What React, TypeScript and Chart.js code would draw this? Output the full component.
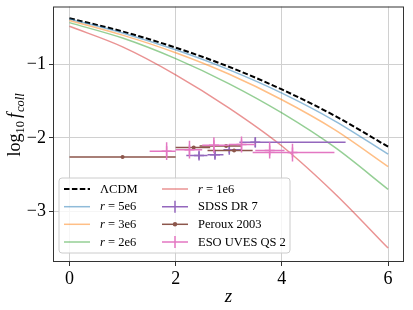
import React, { useEffect, useRef } from 'react';
import { Chart, registerables } from 'chart.js';
Chart.register(...registerables);

const SERIF = '"Liberation Serif", "Times New Roman", serif';

// ---- model curves (log10 f_coll vs z) ----
const zGrid = [0, 1, 2, 3, 4, 5, 6];
const lcdm = [-0.37, -0.55, -0.77, -1.03, -1.34, -1.70, -2.12];
const r5e6 = [-0.38, -0.57, -0.80, -1.07, -1.39, -1.77, -2.22];
const r3e6 = [-0.40, -0.60, -0.84, -1.13, -1.48, -1.89, -2.39];
const r2e6 = [-0.43, -0.64, -0.92, -1.26, -1.66, -2.13, -2.70];
const r1e6 = [-0.48, -0.76, -1.14, -1.59, -2.11, -2.76, -3.50];

// ---- observations ----
const sdssZ = [2.44, 2.74, 3.01, 3.5];
const sdssLogF = [-2.24, -2.23, -2.16, -2.06];
const sdssZLo = [2.2, 2.6, 2.9, 3.2];
const sdssZHi = [2.6, 2.9, 3.25, 5.2];
const sdssErr = [0.05, 0.05, 0.05, 0.07];

const perZ = [1.0, 2.34, 2.95, 3.1];
const perLogF = [-2.26, -2.13, -2.11, -2.17];
const perZLo = [0.0, 2.0, 2.45, 2.6];
const perZHi = [2.0, 2.65, 3.25, 3.45];
const perErr = [0.01, 0.015, 0.015, 0.015];

const esoZ = [1.83, 2.26, 2.72, 3.24, 3.77, 4.2];
const esoLogF = [-2.18, -2.16, -2.1, -2.09, -2.17, -2.2];
const esoZLo = [1.51, 2.0, 2.5, 3.0, 3.5, 3.45];
const esoZHi = [2.0, 2.5, 3.0, 3.5, 4.05, 4.99];
const esoErr = [0.12, 0.12, 0.11, 0.11, 0.11, 0.12];

const xTicks = [0, 2, 4, 6];
const yTicks = [-3, -2, -1];

const C_SDSS = '#9467bd';
const C_PER = '#8c564b';
const C_ESO = '#e377c2';

const fmt = (v: number) => (v < 0 ? '\u2212' + Math.abs(v) : String(v));
const pts = (xs: number[], ys: number[]) => xs.map((x, i) => ({ x, y: ys[i] }));

const curve = (label: string, ys: number[], color: string, order: number, dash?: number[], width = 1.5) => ({
  label,
  data: pts(zGrid, ys),
  showLine: true,
  borderColor: color,
  backgroundColor: color,
  borderWidth: width,
  borderDash: dash || [],
  pointRadius: 0,
  cubicInterpolationMode: 'monotone' as const,
  order,
});

const errorPlugin = {
  id: 'errbars',
  beforeDatasetDraw(chart: any, args: any) {
    const ds = chart.data.datasets[args.index];
    const eb = ds.errorBars;
    if (!eb) return;
    const { ctx, chartArea: a } = chart;
    const xs = chart.scales.x;
    const ys = chart.scales.y;
    ctx.save();
    ctx.beginPath();
    ctx.rect(a.left, a.top, a.right - a.left, a.bottom - a.top);
    ctx.clip();
    ctx.strokeStyle = ds.borderColor;
    ctx.lineWidth = eb.width;
    ds.data.forEach((p: any, i: number) => {
      const px = xs.getPixelForValue(p.x);
      const py = ys.getPixelForValue(p.y);
      ctx.beginPath();
      ctx.moveTo(xs.getPixelForValue(eb.lo[i]), py);
      ctx.lineTo(xs.getPixelForValue(eb.hi[i]), py);
      ctx.moveTo(px, ys.getPixelForValue(p.y - eb.yerr[i]));
      ctx.lineTo(px, ys.getPixelForValue(p.y + eb.yerr[i]));
      ctx.stroke();
    });
    ctx.restore();
  },
};

const decorPlugin = {
  id: 'decor',
  afterDraw(chart: any) {
    const { ctx, chartArea: a } = chart;
    ctx.save();
    // spines
    ctx.strokeStyle = '#333';
    ctx.lineWidth = 1;
    ctx.strokeRect(a.left + 0.5, a.top + 0.5, a.right - a.left - 1, a.bottom - a.top - 1);

    // x title
    ctx.fillStyle = '#000';
    ctx.font = `italic 19px ${SERIF}`;
    ctx.textAlign = 'center';
    ctx.textBaseline = 'alphabetic';
    ctx.fillText('z', (a.left + a.right) / 2, 302);

    // y title: log10 f_coll
    ctx.save();
    ctx.translate(20, 125);
    ctx.rotate(-Math.PI / 2);
    const parts = [
      { t: 'log', f: `18px ${SERIF}`, dy: 0, gap: 0 },
      { t: '10', f: `12.5px ${SERIF}`, dy: 4, gap: 3 },
      { t: 'f', f: `italic 18px ${SERIF}`, dy: 0, gap: 1 },
      { t: 'coll', f: `italic 12.5px ${SERIF}`, dy: 4, gap: 0 },
    ];
    let total = 0;
    parts.forEach((p) => {
      ctx.font = p.f;
      total += ctx.measureText(p.t).width + p.gap;
    });
    let x = -total / 2;
    ctx.textAlign = 'left';
    parts.forEach((p) => {
      ctx.font = p.f;
      ctx.fillText(p.t, x, p.dy);
      x += ctx.measureText(p.t).width + p.gap;
    });
    ctx.restore();

    // legend
    const bx = 59, by = 178, bw = 231, bh = 75;
    ctx.beginPath();
    const r = 3;
    ctx.moveTo(bx + r, by);
    ctx.arcTo(bx + bw, by, bx + bw, by + bh, r);
    ctx.arcTo(bx + bw, by + bh, bx, by + bh, r);
    ctx.arcTo(bx, by + bh, bx, by, r);
    ctx.arcTo(bx, by, bx + bw, by, r);
    ctx.closePath();
    ctx.fillStyle = 'rgba(255,255,255,0.8)';
    ctx.fill();
    ctx.strokeStyle = '#cccccc';
    ctx.lineWidth = 1;
    ctx.stroke();

    const rows = [189, 206.7, 224.3, 242];
    const drawLineHandle = (x0: number, y: number, color: string, dash: number[], w: number) => {
      ctx.save();
      ctx.strokeStyle = color;
      ctx.lineWidth = w;
      ctx.setLineDash(dash);
      ctx.beginPath();
      ctx.moveTo(x0, y);
      ctx.lineTo(x0 + 26, y);
      ctx.stroke();
      ctx.restore();
    };
    const drawErrHandle = (x0: number, y: number, color: string, kind: string) => {
      ctx.save();
      ctx.strokeStyle = color;
      ctx.fillStyle = color;
      ctx.lineWidth = 1.5;
      ctx.beginPath();
      ctx.moveTo(x0, y);
      ctx.lineTo(x0 + 26, y);
      if (kind === 'plus') {
        ctx.moveTo(x0 + 13, y - 6);
        ctx.lineTo(x0 + 13, y + 6);
      }
      ctx.stroke();
      if (kind === 'dot') {
        ctx.beginPath();
        ctx.arc(x0 + 13, y, 2.2, 0, Math.PI * 2);
        ctx.fill();
      }
      ctx.restore();
    };
    const label = (x0: number, y: number, pieces: { t: string; it?: boolean }[]) => {
      let xx = x0;
      ctx.fillStyle = '#000';
      ctx.textAlign = 'left';
      ctx.textBaseline = 'middle';
      pieces.forEach((p) => {
        ctx.font = `${p.it ? 'italic ' : ''}12.5px ${SERIF}`;
        ctx.fillText(p.t, xx, y + 0.5);
        xx += ctx.measureText(p.t).width;
      });
    };
    const c1 = 64, t1 = 100, c2 = 162, t2 = 198;
    drawLineHandle(c1, rows[0], '#000', [5.5, 2.4], 2);
    label(t1, rows[0], [{ t: '\u039BCDM' }]);
    drawLineHandle(c1, rows[1], 'rgba(31,119,180,0.5)', [], 1.5);
    label(t1, rows[1], [{ t: 'r', it: true }, { t: ' = 5e6' }]);
    drawLineHandle(c1, rows[2], 'rgba(255,127,14,0.5)', [], 1.5);
    label(t1, rows[2], [{ t: 'r', it: true }, { t: ' = 3e6' }]);
    drawLineHandle(c1, rows[3], 'rgba(44,160,44,0.5)', [], 1.5);
    label(t1, rows[3], [{ t: 'r', it: true }, { t: ' = 2e6' }]);
    drawLineHandle(c2, rows[0], 'rgba(214,39,40,0.5)', [], 1.5);
    label(t2, rows[0], [{ t: 'r', it: true }, { t: ' = 1e6' }]);
    drawErrHandle(c2, rows[1], C_SDSS, 'plus');
    label(t2, rows[1], [{ t: 'SDSS DR 7' }]);
    drawErrHandle(c2, rows[2], C_PER, 'dot');
    label(t2, rows[2], [{ t: 'Peroux 2003' }]);
    drawErrHandle(c2, rows[3], C_ESO, 'plus');
    label(t2, rows[3], [{ t: 'ESO UVES QS 2' }]);
    ctx.restore();
  },
};

export default function App() {
  const ref = useRef<HTMLCanvasElement>(null);
  useEffect(() => {
    const chart = new Chart(ref.current!, {
      type: 'scatter',
      data: {
        datasets: [
          curve('\u039BCDM', lcdm, '#000', 7, [5.5, 2.4], 2),
          curve('r = 5e6', r5e6, 'rgba(31,119,180,0.5)', 6),
          curve('r = 3e6', r3e6, 'rgba(255,127,14,0.5)', 5),
          curve('r = 2e6', r2e6, 'rgba(44,160,44,0.5)', 4),
          curve('r = 1e6', r1e6, 'rgba(214,39,40,0.5)', 3),
          {
            label: 'SDSS DR 7',
            data: pts(sdssZ, sdssLogF),
            borderColor: C_SDSS,
            backgroundColor: C_SDSS,
            pointStyle: 'cross',
            pointRadius: 5,
            borderWidth: 1.5,
            order: 2,
            errorBars: { lo: sdssZLo, hi: sdssZHi, yerr: sdssErr, width: 1.5 },
          } as any,
          {
            label: 'Peroux 2003',
            data: pts(perZ, perLogF),
            borderColor: C_PER,
            backgroundColor: C_PER,
            pointStyle: 'circle',
            pointRadius: 2,
            borderWidth: 0,
            order: 1,
            errorBars: { lo: perZLo, hi: perZHi, yerr: perErr, width: 1.5 },
          } as any,
          {
            label: 'ESO UVES QS 2',
            data: pts(esoZ, esoLogF),
            borderColor: C_ESO,
            backgroundColor: C_ESO,
            pointStyle: 'cross',
            pointRadius: 5,
            borderWidth: 1.5,
            order: 0,
            errorBars: { lo: esoZLo, hi: esoZHi, yerr: esoErr, width: 1.5 },
          } as any,
        ],
      },
      options: {
        responsive: false,
        animation: false,
        events: [],
        layout: { padding: { left: 0, top: 6, right: 9, bottom: 0 } },
        plugins: { legend: { display: false }, tooltip: { enabled: false } },
        scales: {
          x: {
            type: 'linear',
            min: -0.31,
            max: 6.3,
            afterBuildTicks: (s: any) => {
              s.ticks = xTicks.map((v) => ({ value: v }));
            },
            afterFit: (s: any) => {
              s.height = 48;
              s.paddingLeft = 0;
              s.paddingRight = 0;
            },
            border: { display: false },
            grid: { color: '#d0d0d0', lineWidth: 1, tickLength: 4, tickColor: '#333', drawTicks: true },
            ticks: {
              color: '#000',
              font: { family: SERIF, size: 18 },
              padding: 2,
              maxRotation: 0,
              callback: (v: any) => fmt(Number(v)),
            },
          },
          y: {
            type: 'linear',
            min: -3.69,
            max: -0.21,
            afterBuildTicks: (s: any) => {
              s.ticks = yTicks.map((v) => ({ value: v }));
            },
            afterFit: (s: any) => {
              s.width = 53;
              s.paddingTop = 0;
              s.paddingBottom = 0;
            },
            border: { display: false },
            grid: { color: '#d0d0d0', lineWidth: 1, tickLength: 4, tickColor: '#333', drawTicks: true },
            ticks: {
              color: '#000',
              font: { family: SERIF, size: 18 },
              padding: 3,
              callback: (v: any) => fmt(Number(v)),
            },
          },
        },
      },
      plugins: [errorPlugin, decorPlugin],
    } as any);
    return () => chart.destroy();
  }, []);
  return (
    <div style={{ position: 'fixed', left: 0, top: 0, width: 413, height: 310, background: '#fff' }}>
      <canvas ref={ref} width={413} height={310} style={{ display: 'block' }} />
    </div>
  );
}
